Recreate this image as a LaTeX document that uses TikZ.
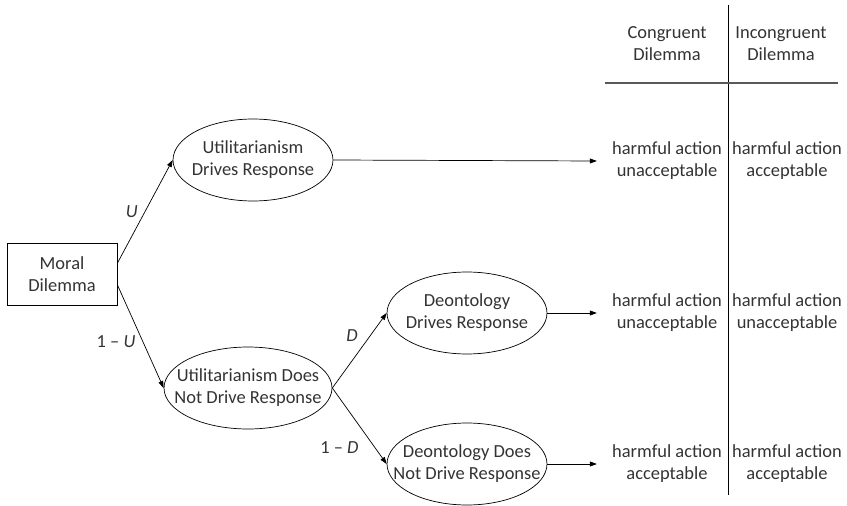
\documentclass[tikz,border=0pt]{standalone}
\usepackage{fontspec}
\setmainfont{Carlito}
\usetikzlibrary{arrows.meta,positioning,shapes.geometric}

\begin{document}
\begin{tikzpicture}[x=0.02cm, y=-0.02cm, >={Triangle[length=4pt,width=2.8pt]},
  every node/.style={font=\fontsize{10.5}{12.6}\selectfont, align=center, text=black!80},
  route/.style={draw=black, ellipse, inner xsep=-30pt, inner ysep=0pt, minimum width=3.2cm, minimum height=1.64cm},
  outcome/.style={inner xsep=8.5pt},
  prob/.style={inner sep=3pt}]
  \useasboundingbox (0,0) rectangle (847,506);

  \node[draw=black, minimum width=2.2cm, minimum height=1.24cm] (md) at (62,274) {Moral\\Dilemma};
  \node[route] (ud) at (253,160) {Utilitarianism\\Drives Response};
  \node[route, minimum width=3.36cm] (un) at (248,388) {Utilitarianism Does\\Not Drive Response};
  \node[route] (dd) at (467,313) {Deontology\\Drives Response};
  \node[route] (dn) at (467,464) {Deontology Does\\Not Drive Response};

  % table on the right
  \node (hcon) at (667,44) {Congruent\\Dilemma};
  \node (hinc) at (781,44) {Incongruent\\Dilemma};
  \node[outcome] (cona) at (667,161) {harmful action\\unacceptable};
  \node[outcome] (conb) at (667,313) {harmful action\\unacceptable};
  \node[outcome] (conc) at (667,464) {harmful action\\acceptable};
  \node (inca) at (787,161) {harmful action\\acceptable};
  \node (incb) at (787,313) {harmful action\\unacceptable};
  \node (incc) at (787,464) {harmful action\\acceptable};
  \draw[line width=0.5pt] (728,5) -- (728,495);
  \draw[line width=0.8pt, black!65] (605,83) -- (838,83);

  \draw[->] (md.11) -- node[prob, pos=0.5, left=1pt] {\textit{U}} (ud.west);
  \draw[->] (md.-11) -- node[prob, pos=0.55, left=1pt] {1 -- \textit{U}} (un.west);
  \draw[->] (un.east) -- node[prob, pos=0.7, left=4pt] {\textit{D}} (dd.west);
  \draw[->] (un.east) -- node[prob, pos=0.78, left=6pt] {1 -- \textit{D}} (dn.west);
  \draw[->] (ud.east) -- (cona.west);
  \draw[->] (dd.east) -- (conb.west);
  \draw[->] (dn.east) -- (conc.west);
\end{tikzpicture}
\end{document}
